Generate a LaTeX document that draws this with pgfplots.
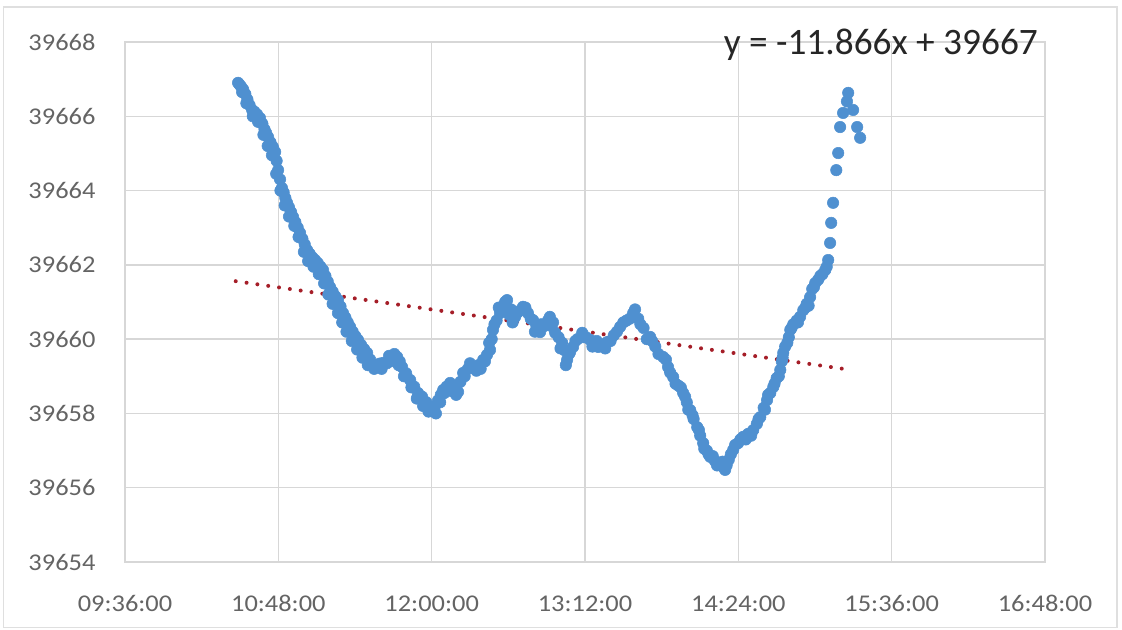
\documentclass[border=0pt]{standalone}
\usepackage{pgfplots}
\pgfplotsset{compat=1.18}
\usepackage{fontspec}
\setmainfont{Carlito}[FakeStretch=1.1]
\newfontfamily\eqfont{Carlito}
\definecolor{dotblue}{RGB}{79,144,208}
\definecolor{trendred}{RGB}{165,30,40}
\definecolor{gridgray}{RGB}{215,215,215}
\definecolor{labelgray}{RGB}{100,100,100}
\begin{document}
\begin{tikzpicture}
\useasboundingbox (-93.75pt,-51pt) rectangle (747.75pt,421.5pt);
\draw[gridgray!80, line width=1pt] (-91pt,-49pt) rectangle (744pt,416.25pt);
\begin{axis}[
  at={(0,0)}, anchor=south west,
  width=690pt, height=390pt, scale only axis,
  xmin=576, xmax=1008, ymin=39654, ymax=39668,
  scaled y ticks=false, scaled x ticks=false,
  xtick={576,648,720,792,864,936,1008},
  xticklabels={09:36:00,10:48:00,12:00:00,13:12:00,14:24:00,15:36:00,16:48:00},
  ytick={39654,39656,39658,39660,39662,39664,39666,39668},
  yticklabels={39654,39656,39658,39660,39662,39664,39666,39668},
  grid=major,
  major grid style={draw=gridgray, line width=1pt},
  axis line style={draw=gridgray, line width=1pt},
  tick style={draw=none},
  yticklabel style={font=\fontsize{18}{20}\selectfont, text=labelgray, anchor=east, inner sep=0pt, xshift=-22pt},
  xticklabel style={font=\fontsize{18}{20}\selectfont, text=labelgray, anchor=north, inner sep=0pt, yshift=-25pt},
  /pgf/number format/assume math mode=true,
  clip=false,
]
\addplot[only marks, mark=*, mark size=4.3pt, mark options={draw=dotblue, fill=dotblue}] table {
x y
629.1 39666.90
629.8 39666.85
630.5 39666.80
631.5 39666.72
632.5 39666.60
633.5 39666.45
634.5 39666.30
635.7 39666.17
636.8 39666.12
638.0 39666.05
639.4 39665.95
640.5 39665.80
641.5 39665.65
642.3 39665.55
643.2 39665.44
644.3 39665.30
645.4 39665.18
646.5 39665.04
647.2 39664.80
647.9 39664.55
648.8 39664.30
649.7 39664.07
650.5 39663.95
651.3 39663.80
652.1 39663.67
653.0 39663.55
654.0 39663.42
654.9 39663.29
656.0 39663.15
657.1 39663.00
658.2 39662.86
659.3 39662.70
660.4 39662.55
661.5 39662.40
662.7 39662.30
664.0 39662.20
665.2 39662.13
666.5 39662.05
667.8 39661.95
669.0 39661.86
670.1 39661.70
671.2 39661.55
672.3 39661.40
673.5 39661.28
674.8 39661.15
676.0 39661.05
677.2 39660.88
678.4 39660.70
679.5 39660.58
680.6 39660.45
681.7 39660.33
682.9 39660.20
684.2 39660.08
685.4 39659.98
686.8 39659.85
688.3 39659.73
689.7 39659.63
691.1 39659.45
692.5 39659.30
694.0 39659.30
695.5 39659.34
697.2 39659.36
699.0 39659.35
700.5 39659.40
702.0 39659.48
703.8 39659.52
705.0 39659.40
706.1 39659.25
708.0 39659.08
709.9 39658.90
711.8 39658.72
713.6 39658.55
715.5 39658.45
717.5 39658.30
719.0 39658.18
720.2 39658.09
721.5 39658.20
723.0 39658.35
724.3 39658.50
725.4 39658.63
727.0 39658.72
728.7 39658.82
730.5 39658.70
732.4 39658.58
733.5 39658.85
734.8 39659.09
737.0 39659.20
739.5 39659.25
742.0 39659.30
744.2 39659.44
746.0 39659.58
747.4 39659.71
748.2 39660.00
748.8 39660.25
750.5 39660.50
752.1 39660.70
753.8 39660.90
755.4 39661.05
757.3 39660.80
759.2 39660.60
761.0 39660.75
762.9 39660.87
765.2 39660.70
767.6 39660.51
769.2 39660.35
770.9 39660.19
772.8 39660.35
774.7 39660.51
776.3 39660.35
778.0 39660.17
779.6 39660.05
781.3 39659.90
782.4 39659.70
783.6 39659.44
785.0 39659.65
786.4 39659.79
788.5 39660.00
790.7 39660.17
792.5 39660.05
794.4 39659.98
796.3 39659.90
798.2 39659.79
800.3 39659.85
802.4 39659.92
805.5 39660.10
808.5 39660.33
811.5 39660.50
814.6 39660.70
817.0 39660.55
819.5 39660.30
822.6 39660.06
825.0 39659.80
828.7 39659.52
831.0 39659.25
833.4 39658.98
835.8 39658.75
838.1 39658.55
839.8 39658.30
841.4 39658.09
843.0 39657.85
844.7 39657.63
846.1 39657.40
847.5 39657.20
849.2 39657.00
850.8 39656.83
853.0 39656.72
855.5 39656.66
857.0 39656.55
857.8 39656.48
859.5 39656.75
861.6 39657.02
863.9 39657.20
866.3 39657.37
868.6 39657.45
871.0 39657.55
872.7 39657.72
874.3 39657.90
875.9 39658.15
877.5 39658.36
879.0 39658.55
880.4 39658.71
882.0 39658.95
883.7 39659.17
884.4 39659.40
885.1 39659.63
886.0 39659.80
887.7 39660.05
888.4 39660.25
889.8 39660.40
891.4 39660.50
893.0 39660.60
894.5 39660.78
896.1 39660.95
897.7 39661.13
898.7 39661.35
900.1 39661.51
902.5 39661.70
904.8 39661.86
906.2 39662.13
907.1 39662.59
907.6 39663.13
908.5 39663.67
910.0 39664.55
910.9 39665.01
911.8 39665.71
913.2 39666.09
915.6 39666.63
915.0 39666.40
917.9 39666.17
919.8 39665.71
921.2 39665.42
631.0 39666.65
633.0 39666.35
636.0 39666.00
638.5 39665.85
641.0 39665.50
643.0 39665.20
645.0 39664.95
647.0 39664.45
649.0 39664.00
651.0 39663.60
653.0 39663.30
655.5 39663.05
657.5 39662.75
660.0 39662.35
662.0 39662.10
664.5 39661.95
667.0 39661.75
669.5 39661.50
671.5 39661.20
673.5 39660.95
676.0 39660.70
678.0 39660.45
680.0 39660.20
682.5 39659.95
685.0 39659.72
687.5 39659.50
690.0 39659.30
693.0 39659.20
696.5 39659.20
700.0 39659.55
702.5 39659.60
704.5 39659.30
707.0 39659.00
710.5 39658.70
713.0 39658.40
716.0 39658.20
718.5 39658.05
722.0 39658.00
724.0 39658.30
726.0 39658.55
729.5 39658.60
731.5 39658.50
735.5 39659.00
738.0 39659.35
741.0 39659.15
743.0 39659.20
745.0 39659.40
747.0 39659.90
749.5 39660.40
751.5 39660.85
754.5 39661.00
756.5 39660.65
758.0 39660.45
760.0 39660.70
764.0 39660.85
766.5 39660.55
768.5 39660.20
771.5 39660.40
775.5 39660.60
777.0 39660.45
780.5 39659.75
783.0 39659.30
784.5 39659.60
787.5 39659.95
791.5 39660.05
795.5 39659.80
797.5 39659.95
801.5 39659.75
804.0 39659.95
807.0 39660.20
810.0 39660.45
813.0 39660.55
815.5 39660.80
818.0 39660.40
821.0 39660.00
823.5 39659.95
826.5 39659.60
830.0 39659.45
832.0 39659.10
834.5 39658.80
837.0 39658.70
839.0 39658.45
840.5 39658.10
842.5 39657.95
845.5 39657.55
848.0 39657.05
850.0 39656.90
852.0 39656.85
854.0 39656.60
856.5 39656.70
858.5 39656.60
860.5 39656.90
862.5 39657.15
865.0 39657.30
867.5 39657.30
870.0 39657.40
873.5 39657.85
876.5 39658.10
878.0 39658.50
881.0 39658.80
883.0 39659.00
884.8 39659.50
887.0 39659.90
889.0 39660.30
892.0 39660.45
895.5 39660.85
897.0 39660.90
899.5 39661.40
901.5 39661.60
903.5 39661.75
905.5 39661.95
};
\addplot[trendred, line width=3pt, line cap=round, dash pattern=on 0pt off 8.2pt] table {
x y
628 39661.56
917 39659.17
};
\node[anchor=base, font=\eqfont\fontsize{28}{30}\selectfont, text=black!85] at (axis cs:930.9,39667.65) {y = -11.866x + 39667};
\end{axis}
\end{tikzpicture}
\end{document}
